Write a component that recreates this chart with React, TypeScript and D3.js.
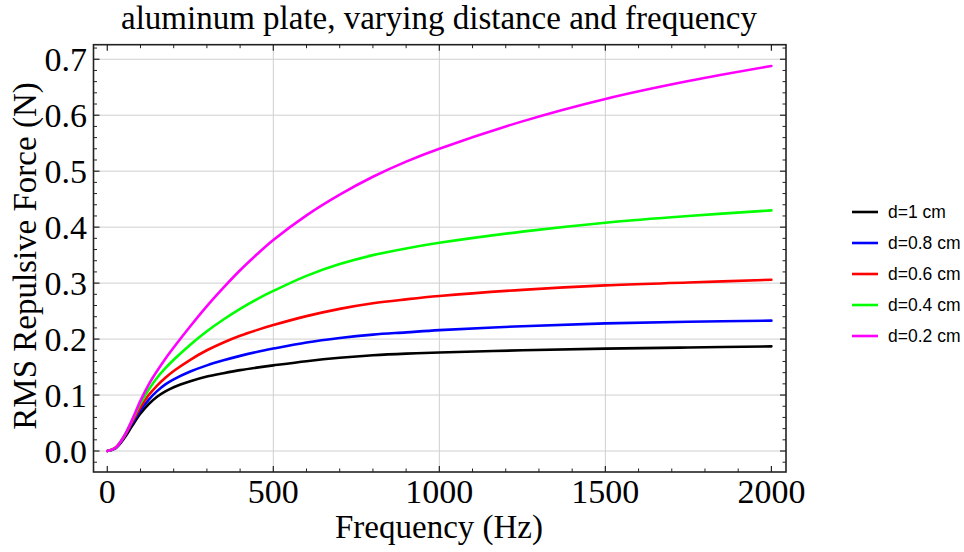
import React from "react";
import * as d3 from "d3";

const frequencies = [0, 25, 50, 75, 100, 125, 150, 175, 200, 250, 300, 350, 400, 450, 500, 600, 700, 800, 900, 1000, 1250, 1500, 1750, 2000];
const forceD10 = [0, 0.005, 0.022, 0.045, 0.067, 0.084, 0.097, 0.1065, 0.114, 0.1245, 0.133, 0.139, 0.1445, 0.149, 0.153, 0.1605, 0.1665, 0.171, 0.174, 0.176, 0.180, 0.183, 0.185, 0.187];
const forceD08 = [0, 0.005, 0.024, 0.049, 0.073, 0.092, 0.107, 0.119, 0.128, 0.142, 0.153, 0.162, 0.170, 0.177, 0.183, 0.194, 0.202, 0.208, 0.212, 0.216, 0.223, 0.228, 0.231, 0.233];
const forceD06 = [0, 0.006, 0.025, 0.052, 0.078, 0.100, 0.117, 0.131, 0.143, 0.163, 0.180, 0.194, 0.206, 0.216, 0.225, 0.241, 0.254, 0.264, 0.271, 0.277, 0.288, 0.296, 0.301, 0.306];
const forceD04 = [0, 0.006, 0.026, 0.055, 0.085, 0.110, 0.131, 0.148, 0.163, 0.190, 0.214, 0.235, 0.254, 0.271, 0.286, 0.313, 0.334, 0.350, 0.362, 0.372, 0.392, 0.408, 0.420, 0.430];
const forceD02 = [0, 0.006, 0.026, 0.056, 0.090, 0.119, 0.143, 0.165, 0.185, 0.223, 0.259, 0.292, 0.323, 0.351, 0.377, 0.421, 0.458, 0.490, 0.517, 0.540, 0.589, 0.629, 0.661, 0.688];

const seriesLabels = ["d=1 cm", "d=0.8 cm", "d=0.6 cm", "d=0.4 cm", "d=0.2 cm"];
const seriesColors = ["#000000", "#0000ff", "#ff0000", "#00ff00", "#ff00ff"];
const seriesValues = [forceD10, forceD08, forceD06, forceD04, forceD02];

const xMajorTicks = [0, 500, 1000, 1500, 2000];
const xGridTicks = [500, 1000, 1500];
const yMajorTicks = [0, 0.1, 0.2, 0.3, 0.4, 0.5, 0.6, 0.7];

const titleText = "aluminum plate, varying distance and frequency";
const xLabel = "Frequency (Hz)";
const yLabel = "RMS Repulsive Force (N)";

export default function App() {
  const W = 964, H = 552;
  const left = 93.5, right = 786, top = 44.7, bottom = 472;
  const x = d3.scaleLinear().domain([-41.5, 2044]).range([left, right]);
  const y = d3.scaleLinear().domain([-0.0375, 0.726]).range([bottom, top]);

  const xMinor = d3.range(0, 2001, 100).filter((v) => v % 500 !== 0);
  const yMinor = d3.range(-0.02, 0.7201, 0.02).filter((v) => Math.abs(Math.round(v * 10) - v * 10) > 1e-6);

  const line = d3
    .line<number>()
    .x((_, i) => x(frequencies[i]))
    .y((d) => y(d))
    .curve(d3.curveCatmullRom.alpha(0.5));

  const serif = "'Liberation Serif', 'Times New Roman', serif";
  const sans = "'Liberation Sans', Arial, sans-serif";
  const frameColor = "#222";

  return (
    <svg width={W} height={H} style={{ position: "absolute", left: 0, top: 0, background: "#fff" }}>
      <rect x={0} y={0} width={W} height={H} fill="#fff" />
      {xGridTicks.map((t) => (
        <line key={"gx" + t} x1={x(t)} x2={x(t)} y1={top} y2={bottom} stroke="#cfcfcf" strokeWidth={1} />
      ))}
      {yMajorTicks.map((t) => (
        <line key={"gy" + t} x1={left} x2={right} y1={y(t)} y2={y(t)} stroke="#cfcfcf" strokeWidth={1} />
      ))}
      {seriesValues.map((vals, i) => (
        <path key={"s" + i} d={line(vals) || ""} fill="none" stroke={seriesColors[i]} strokeWidth={2.6} strokeLinejoin="round" strokeLinecap="round" />
      ))}
      <rect x={left} y={top} width={right - left} height={bottom - top} fill="none" stroke={frameColor} strokeWidth={1.6} />
      {xMajorTicks.map((t) => (
        <g key={"xt" + t}>
          <line x1={x(t)} x2={x(t)} y1={bottom} y2={bottom - 6} stroke={frameColor} strokeWidth={1.2} />
          <line x1={x(t)} x2={x(t)} y1={top} y2={top + 6} stroke={frameColor} strokeWidth={1.2} />
          <text x={x(t)} y={503} textAnchor="middle" fontFamily={serif} fontSize={34} fill="#000">
            {t}
          </text>
        </g>
      ))}
      {xMinor.map((t) => (
        <g key={"xm" + t}>
          <line x1={x(t)} x2={x(t)} y1={bottom} y2={bottom - 3.5} stroke={frameColor} strokeWidth={1} />
          <line x1={x(t)} x2={x(t)} y1={top} y2={top + 3.5} stroke={frameColor} strokeWidth={1} />
        </g>
      ))}
      {yMajorTicks.map((t) => (
        <g key={"yt" + t}>
          <line x1={left} x2={left + 6} y1={y(t)} y2={y(t)} stroke={frameColor} strokeWidth={1.2} />
          <line x1={right} x2={right - 6} y1={y(t)} y2={y(t)} stroke={frameColor} strokeWidth={1.2} />
          <text x={87} y={y(t)} dy="0.34em" textAnchor="end" fontFamily={serif} fontSize={34} fill="#000">
            {t.toFixed(1)}
          </text>
        </g>
      ))}
      {yMinor.map((t) => (
        <g key={"ym" + t.toFixed(2)}>
          <line x1={left} x2={left + 3.5} y1={y(t)} y2={y(t)} stroke={frameColor} strokeWidth={1} />
          <line x1={right} x2={right - 3.5} y1={y(t)} y2={y(t)} stroke={frameColor} strokeWidth={1} />
        </g>
      ))}
      <text x={439} y={29} textAnchor="middle" fontFamily={serif} fontSize={33} fill="#000">
        {titleText}
      </text>
      <text x={439} y={538} textAnchor="middle" fontFamily={serif} fontSize={33} fill="#000">
        {xLabel}
      </text>
      <text transform={`translate(36,256) rotate(-90)`} textAnchor="middle" fontFamily={serif} fontSize={33} fill="#000">
        {yLabel}
      </text>
      {seriesLabels.map((lab, i) => {
        const ly = 212 + i * 31;
        return (
          <g key={"lg" + i}>
            <line x1={852} x2={878} y1={ly} y2={ly} stroke={seriesColors[i]} strokeWidth={2.6} />
            <text x={888} y={ly} dy="0.35em" fontFamily={sans} fontSize={17.5} fill="#000">
              {lab}
            </text>
          </g>
        );
      })}
    </svg>
  );
}
